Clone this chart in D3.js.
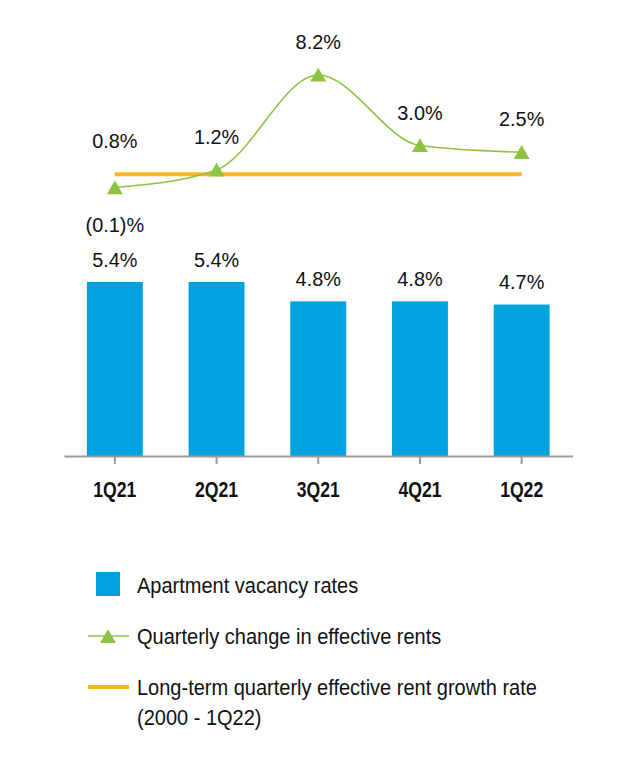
<!DOCTYPE html>
<html>
<head>
<meta charset="utf-8">
<script src="https://cdn.jsdelivr.net/npm/d3@7"></script>
<style>
  html, body { margin: 0; padding: 0; background: #fff; }
  svg { display: block; }
  text { font-family: "Liberation Sans", Arial, Helvetica, sans-serif; fill: #111; }
</style>
</head>
<body>
<svg id="chart" width="636" height="770"></svg>
<script>
const categories = ["1Q21", "2Q21", "3Q21", "4Q21", "1Q22"];
const vacancyRates = [5.4, 5.4, 4.8, 4.8, 4.7];
const rentChange = [-0.1, 1.2, 8.2, 3.0, 2.5];
const rentChangeLabels = ["(0.1)%", "1.2%", "8.2%", "3.0%", "2.5%"];
const longTermRate = 0.8;
const legendLabels = [
  ["Apartment vacancy rates"],
  ["Quarterly change in effective rents"],
  ["Long-term quarterly effective rent growth rate", "(2000 - 1Q22)"]
];

const BLUE = "#00a3e0", GREEN = "#8cc43f", ORANGE = "#fbb326", AXIS = "#999";
const svg = d3.select("#chart");

// text helper with horizontal condensation
function label(parent, x, y, str, opts = {}) {
  const size = opts.size || 19, sx = opts.sx || 0.92;
  const g = parent.append("g").attr("transform", `translate(${x},${y}) scale(${sx},1)`);
  return g.append("text")
    .attr("x", 0).attr("y", 0)
    .attr("text-anchor", opts.anchor || "middle")
    .attr("font-size", size)
    .attr("font-weight", opts.bold ? "bold" : "normal")
    .text(str);
}

const x = d3.scaleBand().domain(categories).range([64, 572.5]).padding(0.45).paddingOuter(0.225);
const yBar = d3.scaleLinear().domain([0, 5.4]).range([456, 282]);
const yLine = d3.scaleLinear().domain([0, 8.2]).range([186.2, 75]);
const cx = c => x(c) + x.bandwidth() / 2;

const NUM = { size: 20.5, sx: 0.97 };

// bars
svg.append("g").selectAll("rect").data(vacancyRates).join("rect")
  .attr("x", (d, i) => x(categories[i]))
  .attr("y", d => yBar(d))
  .attr("width", x.bandwidth())
  .attr("height", d => yBar(0) - yBar(d))
  .attr("fill", BLUE);

const barLabels = svg.append("g");
vacancyRates.forEach((d, i) => {
  label(barLabels, cx(categories[i]), yBar(d) - 15.5, d.toFixed(1) + "%", NUM);
});

// x axis
const xAxis = d3.axisBottom(x).tickSize(8).tickSizeOuter(0).tickFormat("");
const gx = svg.append("g").attr("transform", "translate(0,456)").call(xAxis);
gx.select(".domain").attr("stroke", AXIS).attr("stroke-width", 2);
gx.selectAll(".tick line").attr("stroke", AXIS).attr("stroke-width", 2);
categories.forEach(c => {
  label(svg, cx(c), 496.5, c, { size: 22, sx: 0.8, bold: true });
});

// long-term line
svg.append("line")
  .attr("x1", cx(categories[0])).attr("x2", cx(categories[categories.length - 1]))
  .attr("y1", yLine(longTermRate) - 1).attr("y2", yLine(longTermRate) - 1)
  .attr("stroke", ORANGE).attr("stroke-width", 4);
label(svg, cx(categories[0]), yLine(longTermRate) - 27, longTermRate.toFixed(1) + "%", NUM);

// rent change line
const line = d3.line()
  .x((d, i) => cx(categories[i]))
  .y(d => yLine(d))
  .curve(d3.curveMonotoneX);
svg.append("path").datum(rentChange)
  .attr("d", line).attr("fill", "none")
  .attr("stroke", GREEN).attr("stroke-width", 1.6);

const tri = d3.symbol().type(d3.symbolTriangle).size(110);
svg.append("g").selectAll("path").data(rentChange).join("path")
  .attr("d", tri)
  .attr("transform", (d, i) => `translate(${cx(categories[i])},${yLine(d) + 2})`)
  .attr("fill", GREEN);

const lineLabels = svg.append("g");
rentChange.forEach((d, i) => {
  label(lineLabels, cx(categories[i]), d < 0 ? yLine(d) + 44 : yLine(d) - 26, rentChangeLabels[i], NUM);
});

// legend
const LEG = { size: 22, sx: 0.91, anchor: "start" };
const lg = svg.append("g");
lg.append("rect").attr("x", 96).attr("y", 572).attr("width", 24).attr("height", 24).attr("fill", BLUE);
label(lg, 137, 593, legendLabels[0][0], LEG);

lg.append("line").attr("x1", 88).attr("x2", 129).attr("y1", 636).attr("y2", 636)
  .attr("stroke", GREEN).attr("stroke-width", 1.6);
lg.append("path").attr("d", tri).attr("transform", "translate(108,638.5)").attr("fill", GREEN);
label(lg, 137, 643.5, legendLabels[1][0], LEG);

lg.append("line").attr("x1", 88).attr("x2", 129).attr("y1", 687).attr("y2", 687)
  .attr("stroke", ORANGE).attr("stroke-width", 4);
legendLabels[2].forEach((t, i) => {
  label(lg, 137, 694.5 + i * 30, t, LEG);
});
</script>
</body>
</html>
